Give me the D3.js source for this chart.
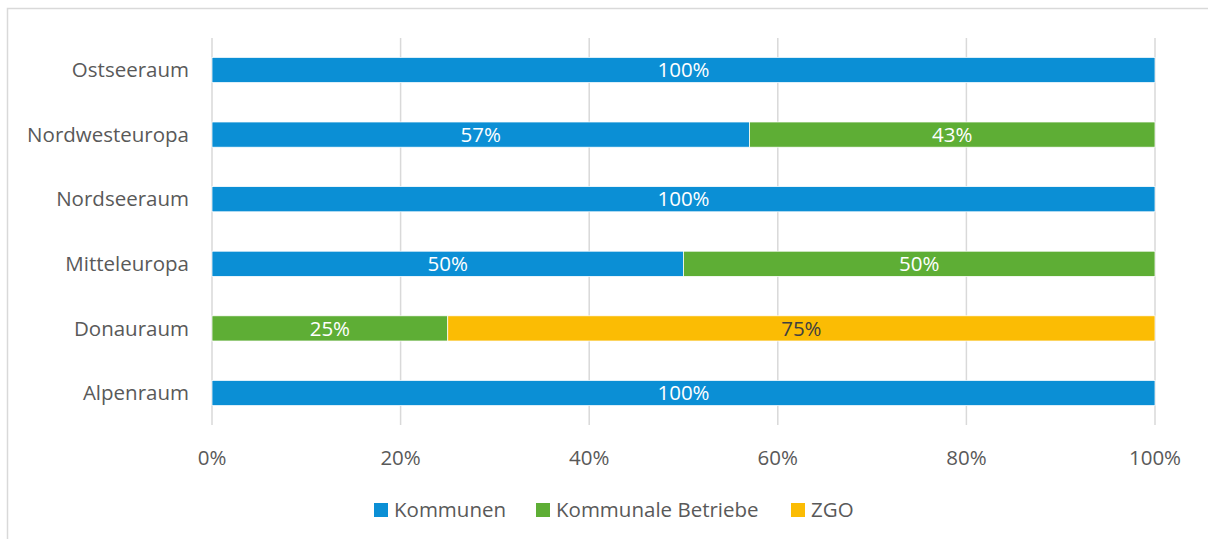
<!DOCTYPE html>
<html lang="de">
<head>
    <meta charset="UTF-8">
    <title>Stacked bars</title>
    <script src="https://d3js.org/d3.v7.min.js"></script>
    <style>
        body { margin: 0; background: #fff; }
        svg text { font-family: "Open Sans", "Noto Sans", sans-serif; fill: #595959; }
        .grid line { stroke: #d9d9d9; stroke-width: 1.5px; }
    </style>
</head>
<body>
<div id="chart"></div>
<script>
    // categories top to bottom
    const regions = ["Ostseeraum", "Nordwesteuropa", "Nordseeraum", "Mitteleuropa", "Donauraum", "Alpenraum"];
    const seriesNames = ["Kommunen", "Kommunale Betriebe", "ZGO"];
    const kommunen = [100, 57, 100, 50, 0, 100];
    const betriebe = [0, 43, 0, 50, 25, 0];
    const zgo = [0, 0, 0, 0, 75, 0];
    const colors = ["#0b8fd5", "#5eae35", "#fbbc04"];
    const ticks = [0, 20, 40, 60, 80, 100];

    const width = 1208, height = 539;
    const margin = { top: 38, right: 53, bottom: 114, left: 212 };
    const fontSize = "20.5px";

    const rows = regions.map((r, i) => ({
        region: r,
        "Kommunen": kommunen[i],
        "Kommunale Betriebe": betriebe[i],
        "ZGO": zgo[i]
    }));
    const stacked = d3.stack().keys(seriesNames)(rows);

    const svg = d3.select("#chart").append("svg")
        .attr("width", width)
        .attr("height", height);

    // outer chart border
    svg.append("rect")
        .attr("x", 7.5).attr("y", 8.5)
        .attr("width", width).attr("height", height)
        .attr("fill", "none")
        .attr("stroke", "#d9d9d9")
        .attr("stroke-width", 1.5);

    const x = d3.scaleLinear().domain([0, 100]).range([margin.left, width - margin.right]);
    const y = d3.scaleBand().domain(regions)
        .range([margin.top, height - margin.bottom])
        .paddingInner(0.61).paddingOuter(0.3);

    // vertical gridlines
    svg.append("g").attr("class", "grid")
        .selectAll("line").data(ticks).join("line")
        .attr("x1", d => x(d)).attr("x2", d => x(d))
        .attr("y1", margin.top).attr("y2", height - margin.bottom);

    // bars
    const layer = svg.append("g").selectAll("g").data(stacked).join("g")
        .attr("fill", (d, i) => colors[i]);

    layer.selectAll("rect").data(d => d.filter(s => s[1] - s[0] > 0)).join("rect")
        .attr("x", d => x(d[0]))
        .attr("y", d => y(d.data.region))
        .attr("width", d => x(d[1]) - x(d[0]))
        .attr("height", y.bandwidth())
        .attr("stroke", "#fff")
        .attr("stroke-width", 0.75);

    // value labels
    layer.selectAll("text").data(d => d.filter(s => s[1] - s[0] > 0)).join("text")
        .attr("x", d => (x(d[0]) + x(d[1])) / 2)
        .attr("y", d => y(d.data.region) + y.bandwidth() / 2)
        .attr("dy", "0.35em")
        .attr("text-anchor", "middle")
        .style("font-size", fontSize)
        .style("fill", (d, i, n) => d3.select(n[i].parentNode).datum().key === "ZGO" ? "#404040" : "#fff")
        .text(d => (d[1] - d[0]) + "%");

    // category labels
    svg.append("g").selectAll("text").data(regions).join("text")
        .attr("x", margin.left - 23)
        .attr("y", d => y(d) + y.bandwidth() / 2)
        .attr("dy", "0.35em")
        .attr("text-anchor", "end")
        .style("font-size", fontSize)
        .text(d => d);

    // x tick labels
    svg.append("g").selectAll("text").data(ticks).join("text")
        .attr("x", d => x(d))
        .attr("y", 458)
        .attr("dy", "0.35em")
        .attr("text-anchor", "middle")
        .style("font-size", fontSize)
        .text(d => d + "%");

    // legend
    const legendX = [374, 536, 791];
    const legend = svg.append("g").selectAll("g").data(seriesNames).join("g")
        .attr("transform", (d, i) => `translate(${legendX[i]},510)`);
    legend.append("rect")
        .attr("x", 0).attr("y", -7)
        .attr("width", 14).attr("height", 14)
        .attr("fill", (d, i) => colors[i]);
    legend.append("text")
        .attr("x", 20)
        .attr("dy", "0.35em")
        .style("font-size", fontSize)
        .text(d => d);
</script>
</body>
</html>
